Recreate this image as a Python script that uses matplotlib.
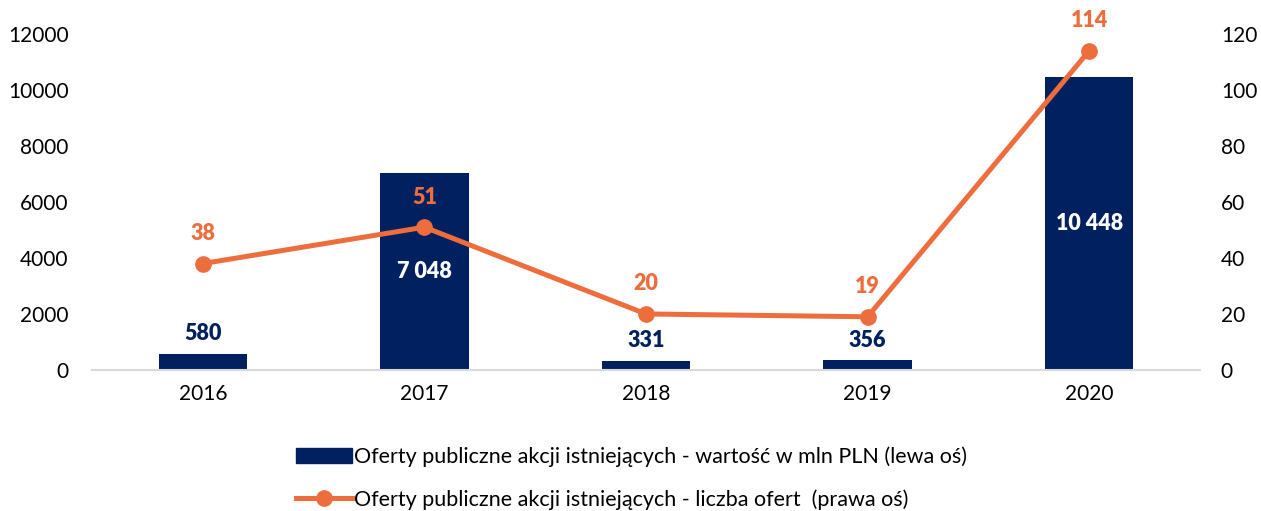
import matplotlib
matplotlib.use("Agg")
import matplotlib.pyplot as plt
from matplotlib.lines import Line2D
from matplotlib.patches import Patch

years = ["2016", "2017", "2018", "2019", "2020"]
values = [580, 7048, 331, 356, 10448]
counts = [38, 51, 20, 19, 114]
value_labels = ["580", "7 048", "331", "356", "10 448"]
left_ticks = [0, 2000, 4000, 6000, 8000, 10000, 12000]
right_ticks = [0, 20, 40, 60, 80, 100, 120]
bar_name = "Oferty publiczne akcji istniejących - wartość w mln PLN (lewa oś)"
line_name = "Oferty publiczne akcji istniejących - liczba ofert  (prawa oś)"

NAVY = "#002060"
ORANGE = "#ED6D3D"
plt.rcParams['font.family'] = ['Lato', 'DejaVu Sans']

fig = plt.figure(figsize=(12.61, 5.11), dpi=100)
ax = fig.add_axes([0.073, 0.276, 0.8786, 0.6575])
x = list(range(len(years)))
ax.bar(x, values, width=0.4, color=NAVY, zorder=2)
ax.set_xlim(-0.5, 4.5)
ax.set_ylim(0, 12000)
ax.set_yticks(left_ticks)
ax.set_yticklabels([str(t) for t in left_ticks], fontsize=15)
ax.set_xticks(x)
ax.set_xticklabels(years, fontsize=15)
ax.tick_params(axis='x', length=0, pad=10)
ax.tick_params(axis='y', length=0, pad=17)
for s in ["top", "right", "left"]:
    ax.spines[s].set_visible(False)
ax.spines["bottom"].set_color("#D9D9D9")
ax.spines["bottom"].set_linewidth(1.5)

for xi, v, lab in zip(x, values, value_labels):
    if v > 3000:
        ax.text(xi, v / 2, lab, ha='center', va='center', color='white',
                fontsize=15.5, fontweight='heavy', zorder=5)
    else:
        ax.text(xi, v + 330, lab, ha='center', va='bottom', color=NAVY,
                fontsize=15.5, fontweight='heavy', zorder=5)

ax2 = ax.twinx()
ax2.plot(x, counts, color=ORANGE, lw=3.6, marker='o', markersize=11, zorder=3)
ax2.set_ylim(0, 120)
ax2.set_yticks(right_ticks)
ax2.set_yticklabels([str(t) for t in right_ticks], fontsize=15)
ax2.tick_params(length=0, pad=15)
for s in ["top", "right", "left", "bottom"]:
    ax2.spines[s].set_visible(False)
for xi, c in zip(x, counts):
    ax2.text(xi, c + 7, str(c), ha='center', va='bottom', color=ORANGE,
             fontsize=15.5, fontweight='heavy')

handles = [Patch(facecolor=NAVY, edgecolor=NAVY),
           Line2D([0], [0], color=ORANGE, lw=3.6, marker='o', markersize=11)]
fig.legend(handles, [bar_name, line_name], loc='lower left',
           bbox_to_anchor=(0.219, -0.035), ncol=1, frameon=False,
           fontsize=15.5, handlelength=2.6, handletextpad=0.1, labelspacing=1.0)

fig.savefig("out.png", dpi=100)
